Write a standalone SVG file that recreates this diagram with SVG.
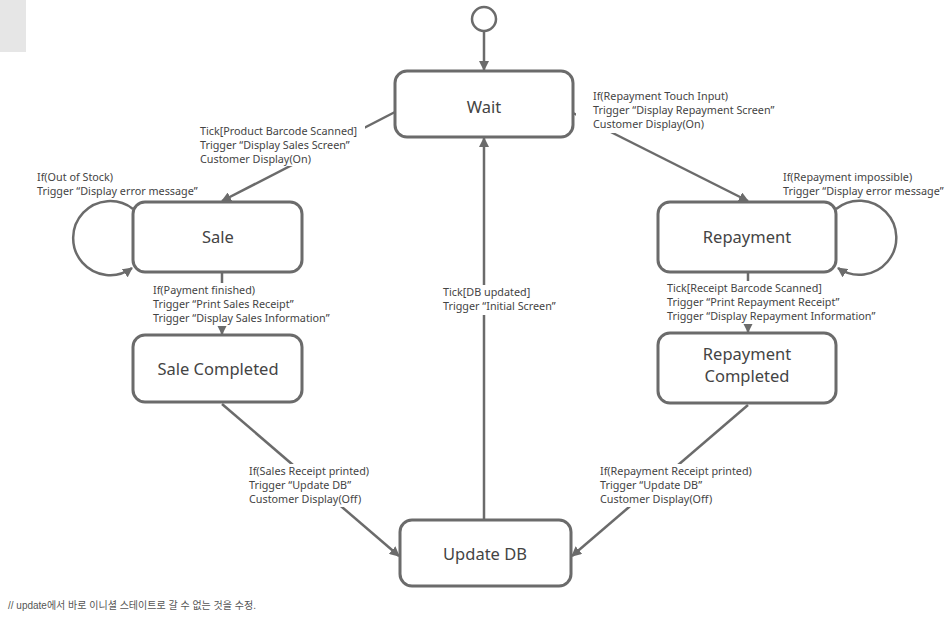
<svg xmlns="http://www.w3.org/2000/svg" width="952" height="617" viewBox="0 0 952 617">
<style>
.node rect{fill:#fff;stroke:#6b6b6b;stroke-width:3}
.ntext{font-family:"Noto Sans","Liberation Sans",sans-serif;font-size:16.5px;fill:#444;text-anchor:middle}
.lbl{font-family:"Noto Sans","Liberation Sans",sans-serif;font-size:10.8px;fill:#444}
.bg{fill:#fff}
.conn path,.conn line{fill:none;stroke:#6b6b6b;stroke-width:2.5}
</style>
<defs>
<marker id="arr" viewBox="0 0 10 10" refX="9" refY="5" markerWidth="4" markerHeight="4" orient="auto" markerUnits="strokeWidth">
<path d="M0,0 L10,5 L0,10 z" fill="#6b6b6b"/>
</marker>
</defs>
<rect x="0" y="0" width="26" height="52" fill="#e6e6e6"/>
<g id="initial"><circle cx="484" cy="19" r="12" fill="#fff" stroke="#6b6b6b" stroke-width="2.5"/></g>
<g id="connectors" class="conn">
<line x1="484" y1="31" x2="484" y2="70" marker-end="url(#arr)"/>
<line x1="395" y1="112" x2="222" y2="201" marker-end="url(#arr)"/>
<line x1="573" y1="113" x2="748" y2="201" marker-end="url(#arr)"/>
<line x1="222" y1="272" x2="222" y2="334" marker-end="url(#arr)"/>
<line x1="748" y1="272" x2="748" y2="332" marker-end="url(#arr)"/>
<line x1="222" y1="404" x2="399" y2="556" marker-end="url(#arr)"/>
<line x1="748" y1="405" x2="572" y2="556" marker-end="url(#arr)"/>
<line x1="484" y1="520" x2="484" y2="138" marker-end="url(#arr)"/>
<path d="M133,209 A37,37 0 1,0 132,268" marker-end="url(#arr)"/>
<path d="M836,209 A37,37 0 1,1 838,268" marker-end="url(#arr)"/>
</g>
<g id="wait" class="node"><rect x="395" y="71" width="178" height="66" rx="12"/><text class="ntext" x="484" y="113">Wait</text></g>
<g id="sale" class="node"><rect x="133" y="202" width="169" height="70" rx="12"/><text class="ntext" x="218" y="243">Sale</text></g>
<g id="saleCompleted" class="node"><rect x="133" y="335" width="169" height="67" rx="12"/><text class="ntext" x="218" y="375">Sale Completed</text></g>
<g id="repayment" class="node"><rect x="658" y="202" width="178" height="70" rx="12"/><text class="ntext" x="747" y="243">Repayment</text></g>
<g id="repaymentCompleted" class="node"><rect x="658" y="333" width="178" height="70" rx="12"/><text class="ntext" x="747" y="360">Repayment</text><text class="ntext" x="747" y="382">Completed</text></g>
<g id="updateDB" class="node"><rect x="400" y="520" width="171" height="66" rx="12"/><text class="ntext" x="485" y="560">Update DB</text></g>
<g id="labels">
<rect class="bg" x="197" y="124" width="168" height="42"/>
<text class="lbl" x="200" y="135">Tick[Product Barcode Scanned]</text>
<text class="lbl" x="200" y="149">Trigger “Display Sales Screen”</text>
<text class="lbl" x="200" y="163">Customer Display(On)</text>
<text class="lbl" x="37" y="181">If(Out of Stock)</text>
<text class="lbl" x="37" y="195">Trigger “Display error message”</text>
<rect class="bg" x="576" y="89" width="210" height="44"/>
<text class="lbl" x="593" y="100">If(Repayment Touch Input)</text>
<text class="lbl" x="593" y="114">Trigger “Display Repayment Screen”</text>
<text class="lbl" x="593" y="128">Customer Display(On)</text>
<text class="lbl" x="783" y="181">If(Repayment impossible)</text>
<text class="lbl" x="783" y="195">Trigger “Display error message”</text>
<rect class="bg" x="150" y="283" width="195" height="43"/>
<text class="lbl" x="153" y="294">If(Payment finished)</text>
<text class="lbl" x="153" y="308">Trigger “Print Sales Receipt”</text>
<text class="lbl" x="153" y="322">Trigger “Display Sales Information”</text>
<rect class="bg" x="664" y="281" width="224" height="43"/>
<text class="lbl" x="667" y="292">Tick[Receipt Barcode Scanned]</text>
<text class="lbl" x="667" y="306">Trigger “Print Repayment Receipt”</text>
<text class="lbl" x="667" y="320">Trigger “Display Repayment Information”</text>
<rect class="bg" x="440" y="285" width="125" height="30"/>
<text class="lbl" x="443" y="296">Tick[DB updated]</text>
<text class="lbl" x="443" y="310">Trigger “Initial Screen”</text>
<rect class="bg" x="246" y="464" width="140" height="43"/>
<text class="lbl" x="249" y="475">If(Sales Receipt printed)</text>
<text class="lbl" x="249" y="489">Trigger “Update DB”</text>
<text class="lbl" x="249" y="503">Customer Display(Off)</text>
<rect class="bg" x="597" y="464" width="165" height="43"/>
<text class="lbl" x="600" y="475">If(Repayment Receipt printed)</text>
<text class="lbl" x="600" y="489">Trigger “Update DB”</text>
<text class="lbl" x="600" y="503">Customer Display(Off)</text>
<text x="8" y="609" style="font-family:'Liberation Sans','Noto Sans CJK KR',sans-serif;font-size:10px;fill:#555">// update에서 바로 이니셜 스테이트로 갈 수 없는 것을 수정.</text>
</g>
</svg>
